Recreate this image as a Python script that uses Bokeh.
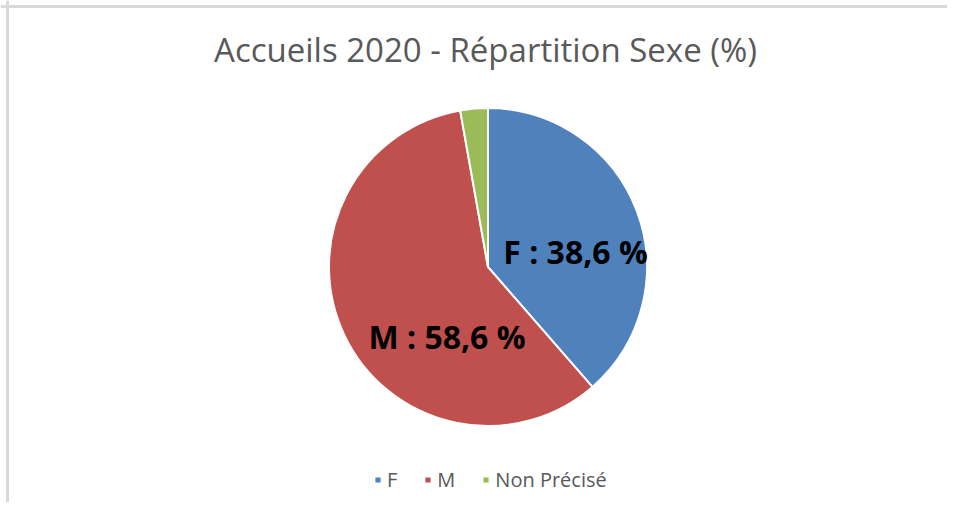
import math
from bokeh.plotting import figure
from bokeh.models import ColumnDataSource, Range1d, Legend, LegendItem, Label, Span
from bokeh.embed import file_html
from bokeh.resources import INLINE

# ---- data ----
categories = ["F", "M", "Non Précisé"]
values = [38.6, 58.6, 2.8]
colors = ["#4F81BD", "#C0504D", "#9BBB59"]
title_text = "Accueils 2020 - Répartition Sexe (%)"

W, H = 947, 502
p = figure(width=W, height=H, output_backend="svg", toolbar_location=None,
           x_range=Range1d(0, W), y_range=Range1d(0, H), min_border=0,
           outline_line_color=None)
p.axis.visible = False
p.grid.visible = False
p.background_fill_color = "white"
p.border_fill_color = "white"

# pie geometry (layout)
cx, cy, r = 487.5, 235.5, 159

total = sum(values)
starts, ends = [], []
cum = 0.0
for v in values:
    a0 = math.pi / 2 - 2 * math.pi * cum / total
    cum += v
    a1 = math.pi / 2 - 2 * math.pi * cum / total
    starts.append(a0)
    ends.append(a1)

src = ColumnDataSource(dict(cat=categories, val=values, color=colors,
                            start=starts, end=ends,
                            x=[cx] * 3, y=[cy] * 3))
wr = p.wedge(x="x", y="y", radius=r, start_angle="start", end_angle="end",
             direction="clock", fill_color="color", line_color="white",
             line_width=2, source=src)

# data labels (inside slices)
label_pos = {"F": (cx + 87.5, cy + 15.5), "M": (cx - 41, cy - 69.5)}
for c, v in zip(categories, values):
    if c in label_pos:
        lx, ly = label_pos[c]
        txt = f"{c} : {v:.1f} %".replace(".", ",")
        p.add_layout(Label(x=lx, y=ly, text=txt, text_align="center",
                           text_baseline="alphabetic", text_font="Open Sans",
                           text_font_style="bold", text_font_size="32px",
                           text_color="black"))

# title
p.add_layout(Label(x=485, y=453, text=title_text, text_align="center",
                   text_baseline="alphabetic", text_font="Open Sans",
                   text_font_size="33px", text_color="#595959"))

# legend
items = [LegendItem(label=c, renderers=[wr], index=i) for i, c in enumerate(categories)]
legend = Legend(items=items, orientation="horizontal", location=(373, 9),
                glyph_width=9, glyph_height=9, label_standoff=5, spacing=26,
                label_width=5, padding=0, margin=0, border_line_color=None,
                background_fill_alpha=0, label_text_font="Open Sans",
                label_text_font_size="20px", label_text_color="#595959")
p.add_layout(legend, "center")

# chart border (top and left visible)
p.add_layout(Span(location=H - 6, dimension="width", line_color="#d9d9d9", line_width=3))
p.add_layout(Span(location=7, dimension="height", line_color="#d9d9d9", line_width=3))

open("out.html", "w").write(file_html(p, INLINE))
